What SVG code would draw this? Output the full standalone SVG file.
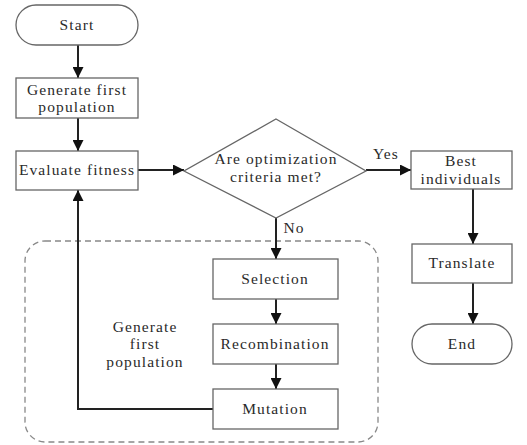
<svg xmlns="http://www.w3.org/2000/svg" width="527" height="445" viewBox="0 0 527 445">
<style>
.box{fill:#fff;stroke:#666;stroke-width:1.3}
.t{font-family:"Liberation Serif","Times New Roman",serif;font-size:15.5px;fill:#2a2a2a;text-anchor:middle;letter-spacing:1.1px}
.c{fill:none;stroke:#222;stroke-width:2}
.dash{fill:none;stroke:#888;stroke-width:1.3;stroke-dasharray:6 4}
</style>
<defs>
<marker id="ah" viewBox="0 0 10 10" refX="10" refY="5" markerWidth="5.5" markerHeight="5.5" orient="auto" markerUnits="strokeWidth">
<path d="M0,0 L10,5 L0,10 z" fill="#111"/>
</marker>
</defs>
<rect width="527" height="445" fill="#fff"/>
<g id="loop-region">
<rect class="dash" x="25" y="241" width="353" height="201" rx="20"/>
<text class="t" x="145" y="332">Generate</text>
<text class="t" x="145" y="349">first</text>
<text class="t" x="145" y="367">population</text>
</g>
<g id="connectors">
<line class="c" x1="78" y1="45" x2="78" y2="78" marker-end="url(#ah)"/>
<line class="c" x1="78" y1="118" x2="78" y2="151" marker-end="url(#ah)"/>
<line class="c" x1="138" y1="170" x2="184" y2="170" marker-end="url(#ah)"/>
<line class="c" x1="366" y1="170" x2="411" y2="170" marker-end="url(#ah)"/>
<line class="c" x1="473" y1="189" x2="473" y2="244" marker-end="url(#ah)"/>
<line class="c" x1="473" y1="283" x2="473" y2="324" marker-end="url(#ah)"/>
<line class="c" x1="276" y1="218" x2="276" y2="259" marker-end="url(#ah)"/>
<line class="c" x1="276" y1="299" x2="276" y2="324" marker-end="url(#ah)"/>
<line class="c" x1="276" y1="364" x2="276" y2="389" marker-end="url(#ah)"/>
<polyline class="c" points="213,409 78,409 78,190" marker-end="url(#ah)"/>
<text class="t" x="386" y="159">Yes</text>
<text class="t" x="294" y="233">No</text>
</g>
<g id="start">
<rect class="box" x="16" y="5" width="122" height="40" rx="20"/>
<text class="t" x="77" y="30">Start</text>
</g>
<g id="generate">
<rect class="box" x="16" y="78" width="122" height="40"/>
<text class="t" x="77" y="95">Generate first</text>
<text class="t" x="77" y="112">population</text>
</g>
<g id="evaluate">
<rect class="box" x="16" y="151" width="122" height="39"/>
<text class="t" x="77" y="175">Evaluate fitness</text>
</g>
<g id="decision">
<polygon class="box" points="276,119 366,171 276,218 184,171"/>
<text class="t" x="276" y="164">Are optimization</text>
<text class="t" x="276" y="182">criteria met?</text>
</g>
<g id="best">
<rect class="box" x="411" y="151" width="101" height="38"/>
<text class="t" x="461" y="166">Best</text>
<text class="t" x="461" y="184">individuals</text>
</g>
<g id="translate">
<rect class="box" x="412" y="244" width="100" height="39"/>
<text class="t" x="462" y="268">Translate</text>
</g>
<g id="end">
<rect class="box" x="412" y="324" width="100" height="40" rx="20"/>
<text class="t" x="462" y="349">End</text>
</g>
<g id="selection">
<rect class="box" x="213" y="259" width="125" height="40"/>
<text class="t" x="275" y="284">Selection</text>
</g>
<g id="recombination">
<rect class="box" x="213" y="324" width="125" height="40"/>
<text class="t" x="275" y="349">Recombination</text>
</g>
<g id="mutation">
<rect class="box" x="213" y="389" width="125" height="40"/>
<text class="t" x="275" y="414">Mutation</text>
</g>
</svg>
